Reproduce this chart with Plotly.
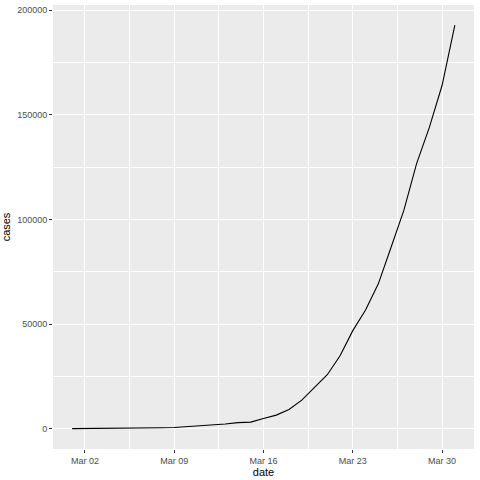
import plotly.graph_objects as go
import pandas as pd

dates = pd.date_range("2020-03-01", "2020-03-31", freq="D").strftime("%Y-%m-%d").tolist()
cases = [88, 105, 125, 160, 230, 330, 420, 540, 610, 970, 1300, 1700, 2300, 2950, 3200,
         4930, 6550, 9230, 13700, 19760, 25840, 34930, 46900, 56790, 69240, 86750,
         104300, 126650, 144000, 164100, 192800]

x_ticks = ["2020-03-02", "2020-03-09", "2020-03-16", "2020-03-23", "2020-03-30"]
x_minor = ["2020-03-05 12:00", "2020-03-12 12:00", "2020-03-19 12:00", "2020-03-26 12:00"]
y_ticks = [0, 50000, 100000, 150000, 200000]
y_minor = [25000, 75000, 125000, 175000]

fig = go.Figure(go.Scatter(x=dates, y=cases, mode="lines",
                           line=dict(color="black", width=1.1)))

ymin, ymax = min(0, min(cases)), max(cases)
pad = (ymax - ymin) * 0.05
x0 = pd.Timestamp(dates[0]); x1 = pd.Timestamp(dates[-1])
xpad = (x1 - x0) * 0.05

axis_common = dict(
    showgrid=True, gridcolor="white", gridwidth=1.1, zeroline=False, automargin=False,
    showline=False, ticks="outside", ticklen=3, tickwidth=1.1, tickcolor="#333333",
    tickfont=dict(family="Liberation Sans, Arial, sans-serif", size=9, color="#4D4D4D"),
)

fig.update_layout(
    width=480, height=480,
    margin=dict(l=53, r=6, t=5, b=31),
    paper_bgcolor="white", plot_bgcolor="#EBEBEB",
    showlegend=False,
    font=dict(family="Liberation Sans, Arial, sans-serif", color="black"),
    xaxis=dict(
        **axis_common,
        range=[x0 - xpad, x1 + xpad],
        tickmode="array", tickvals=x_ticks, tickformat="%b %d",
        minor=dict(tickmode="array", tickvals=x_minor, showgrid=True,
                   gridcolor="white", gridwidth=0.55, ticks=""),
        title=dict(text="date", font=dict(size=11, color="black"), standoff=2),
    ),
    yaxis=dict(
        **axis_common,
        range=[ymin - pad, ymax + pad],
        tickmode="array", tickvals=y_ticks, tickformat="d",
        minor=dict(tickmode="array", tickvals=y_minor, showgrid=True,
                   gridcolor="white", gridwidth=0.55, ticks=""),
        title=dict(text="cases", font=dict(size=11, color="black"), standoff=4),
    ),
)

fig.write_html("out.html", config={"displayModeBar": False})

with open("out.html", "r", encoding="utf-8") as f:
    html = f.read()
html = html.replace("<body>", '<body style="margin:0;padding:0;">', 1)
with open("out.html", "w", encoding="utf-8") as f:
    f.write(html)
